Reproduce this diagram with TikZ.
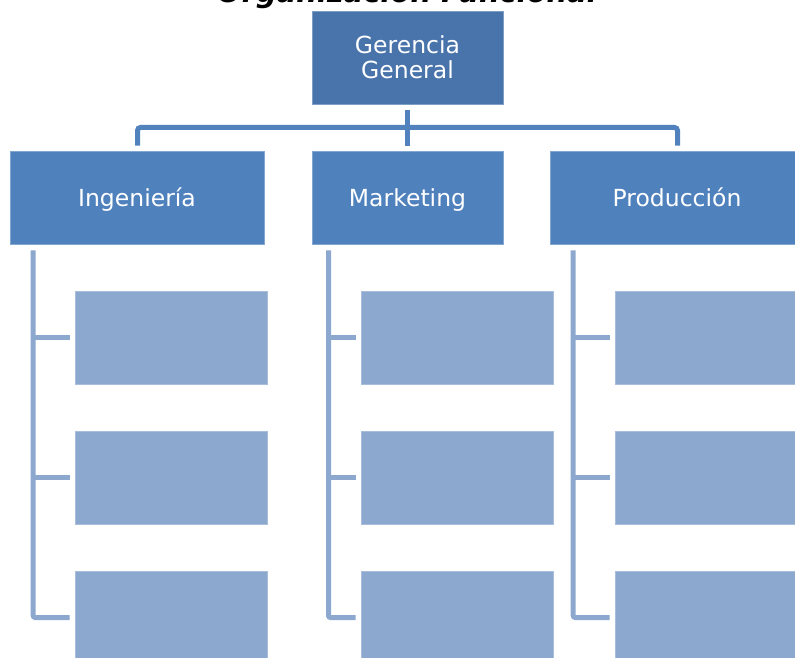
\documentclass[tikz,border=0pt]{standalone}
\usepackage{fontspec}
\setmainfont{DejaVu Sans}
\usetikzlibrary{calc}
\definecolor{topc}{HTML}{4874AB}
\definecolor{midc}{HTML}{4F81BD}
\definecolor{lowc}{HTML}{8DA8CE}
\definecolor{busc}{HTML}{5182BE}
\definecolor{barc}{HTML}{8DA8CF}
\tikzset{
  box/.style={rectangle, inner sep=0pt, minimum height=93pt, text=white,
    font=\fontsize{23.5}{24.7}\selectfont, align=center},
  topbox/.style={box, fill=topc, draw=topc!70!white, line width=0.6pt, minimum width=191pt},
  midbox/.style={box, fill=midc, draw=midc!70!white, line width=0.6pt,
    text height=21.2pt, text depth=2.8pt},
  lowbox/.style={box, fill=lowc, draw=lowc!75!white, line width=0.6pt, minimum width=192pt},
  bus/.style={draw=busc, line width=5pt, rounded corners=3pt},
  bar/.style={draw=barc, line width=5pt, rounded corners=2pt},
  titlefont/.style={font=\fontsize{29}{32}\selectfont\bfseries\itshape}
}
\begin{document}
\begin{tikzpicture}[x=1pt,y=1pt]
\useasboundingbox (0,0) rectangle (795,657);
\clip (0,0) rectangle (795,657);
% title
\node[titlefont, anchor=base] (title) at (407,654) {Organización Funcional};
% top
\node[topbox] (top) at (407.5,599.5) {Gerencia\\General};
% level 2
\node[midbox, minimum width=254pt] (ing) at (137,459.5) {Ingeniería};
\node[midbox, minimum width=191pt] (mkt) at (407.5,459.5) {Marketing};
\node[midbox, minimum width=254pt] (prod) at (677,459.5) {Producción};
% level 3
\foreach \n/\x in {a/171,b/457,c/711}{
  \node[lowbox] (\n1) at (\x,319.5) {};
  \node[lowbox] (\n2) at (\x,179.5) {};
  \node[lowbox] (\n3) at (\x,39.5) {};
}
% bus
\coordinate (busmid) at (407.5,529.5);
\draw[bus] ([yshift=-6pt]top.south) -- ([yshift=5pt]mkt.north);
\draw[bus] ([xshift=0.5pt,yshift=5pt]ing.north) |- (busmid) -| ([xshift=0.5pt,yshift=5pt]prod.north);
% bars
\coordinate (ba) at ($(ing.south west)+(23.5,-6)$);
\coordinate (bb) at ($(mkt.south west)+(16.8,-6)$);
\coordinate (bc) at ($(prod.south west)+(23.5,-6)$);
\foreach \n in {a,b,c}{
  \draw[bar] (b\n) |- ([xshift=-5pt]\n3.west);
  \draw[bar] (b\n |- \n1.west) -- ([xshift=-5pt]\n1.west);
  \draw[bar] (b\n |- \n2.west) -- ([xshift=-5pt]\n2.west);
}
\end{tikzpicture}
\end{document}
